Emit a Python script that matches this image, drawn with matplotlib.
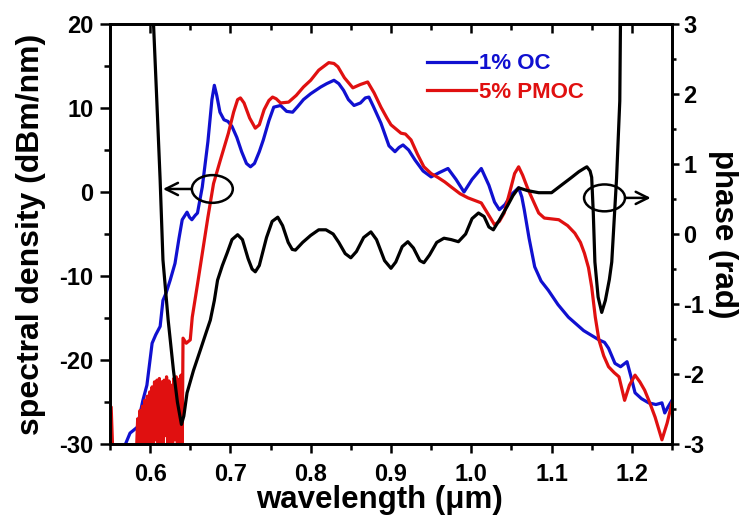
import matplotlib
matplotlib.use("Agg")
import matplotlib.pyplot as plt
from matplotlib.patches import Ellipse
from matplotlib.ticker import MultipleLocator

plt.rcParams['font.family'] = ['Liberation Sans', 'DejaVu Sans']
plt.rcParams['font.weight'] = 'bold'
plt.rcParams['axes.unicode_minus'] = False

# ---- data ----
blue_x = [0.565, 0.575, 0.584, 0.591, 0.596, 0.6025, 0.607, 0.6125, 0.616, 0.620,
          0.625, 0.631, 0.636, 0.640, 0.646, 0.649, 0.652, 0.656, 0.659, 0.665,
          0.672, 0.677, 0.680, 0.683, 0.687, 0.692, 0.697, 0.702, 0.708, 0.714,
          0.720, 0.725, 0.730, 0.736, 0.741, 0.748, 0.754, 0.7625, 0.770, 0.7775,
          0.784, 0.791, 0.800, 0.8125, 0.820, 0.829, 0.835, 0.841, 0.847, 0.854,
          0.862, 0.868, 0.8725, 0.878, 0.8875, 0.8975, 0.905, 0.910, 0.915, 0.922,
          0.930, 0.940, 0.950, 0.960, 0.971, 0.981, 0.991, 1.001, 1.0125, 1.022,
          1.029, 1.035, 1.042, 1.050, 1.059, 1.063, 1.066, 1.072, 1.079, 1.087,
          1.096, 1.108, 1.121, 1.140, 1.159, 1.166, 1.171, 1.179, 1.186, 1.194,
          1.199, 1.204, 1.212, 1.221, 1.230, 1.2375, 1.241, 1.245, 1.250]
blue_y = [-31.0, -28.7, -28.0, -24.8, -23.0, -18.0, -17.0, -16.0, -12.9, -12.0,
          -10.5, -8.5, -5.5, -3.3, -2.4, -3.0, -3.3, -2.8, -2.5, 0.6,
          6.0, 11.0, 12.7, 11.5, 9.5, 8.6, 8.4, 7.8, 6.5, 4.8,
          3.4, 3.0, 3.4, 4.8, 6.2, 8.5, 10.1, 10.3, 9.6, 9.5,
          10.2, 11.0, 11.7, 12.5, 12.9, 13.3, 12.9, 12.1, 11.0, 10.3,
          10.6, 11.2, 11.3, 10.2, 8.2, 5.5, 4.8, 5.3, 5.6, 5.0,
          3.8, 2.5, 1.8, 2.3, 2.8, 1.5, 0.0, 1.5, 2.8, 0.8,
          -1.2, -2.1, -1.5, -0.3, 0.5, -0.6, -2.1, -5.5, -8.9, -10.6,
          -11.7, -13.4, -14.9, -16.5, -17.6, -17.9, -18.6, -20.4, -20.8, -20.2,
          -22.0, -23.9, -24.6, -25.1, -25.3, -25.1, -26.3, -25.6, -24.8]

red_x = [0.5500, 0.5515, 0.5535, 0.5830,
         0.5845, 0.5860, 0.5875, 0.5890, 0.5905, 0.5920, 0.5935, 0.5950, 0.5965,
         0.5980, 0.5995, 0.6010, 0.6025, 0.6040, 0.6055, 0.6070, 0.6085, 0.6100,
         0.6115, 0.6130, 0.6145, 0.6160, 0.6175, 0.6190, 0.6205, 0.6220, 0.6235,
         0.6250, 0.6265, 0.6280, 0.6295, 0.6310, 0.6325, 0.6340, 0.6355, 0.6370,
         0.6385, 0.6400, 0.6410, 0.6450, 0.6500, 0.6525, 0.6590, 0.6660, 0.6720,
         0.6790, 0.6875, 0.6975, 0.7040, 0.7090, 0.7125, 0.7170, 0.7240, 0.7310,
         0.7360, 0.7420, 0.7480, 0.7525, 0.7570, 0.7625, 0.7725, 0.7820, 0.7910,
         0.8000, 0.8100, 0.8225, 0.8290, 0.8340, 0.8420, 0.8525, 0.8620, 0.8710,
         0.8790, 0.8875, 0.8950, 0.9000, 0.9125, 0.9180, 0.9250, 0.9330, 0.9410,
         0.9500, 0.9590, 0.9670, 0.9750, 0.9860, 0.9960, 1.0125, 1.0220, 1.0290,
         1.0350, 1.0410, 1.0480, 1.0540, 1.0590, 1.0640, 1.0700, 1.0750, 1.0840,
         1.0910, 1.1000, 1.1090, 1.1200, 1.1290, 1.1360, 1.1410, 1.1460, 1.1500,
         1.1545, 1.1590, 1.1650, 1.1710, 1.1780, 1.1840, 1.1910, 1.1970, 1.2040,
         1.2100, 1.2160, 1.2220, 1.2290, 1.2375, 1.2440, 1.2500]
red_y = [-25.6, -25.6, -31.0, -31.0,
         -27.0, -31.0, -26.0, -30.5, -25.5, -31.0, -24.8, -30.0, -24.3,
         -31.0, -23.8, -30.0, -23.2, -31.0, -22.6, -29.5, -22.4, -31.0,
         -22.2, -30.0, -22.6, -31.0, -22.4, -29.0, -22.0, -31.0, -22.5,
         -30.0, -23.0, -31.0, -22.2, -29.5, -22.0, -31.0, -22.3, -30.0,
         -21.8, -30.5, -17.4, -18.0, -17.6, -14.9, -11.0, -6.7, -3.0,
         1.0, 3.8, 7.0, 9.5, 11.0, 11.2, 10.6, 8.8, 7.6,
         8.0, 9.8, 10.9, 11.3, 11.1, 10.6, 10.7, 11.5, 12.5,
         13.3, 14.5, 15.4, 15.3, 14.9, 13.6, 12.4, 12.8, 13.1,
         11.8, 10.1, 8.8, 8.0, 7.0, 6.9, 6.2, 4.5, 3.0,
         2.2, 1.7, 1.2, 0.6, -0.2, -0.7, -1.3, -2.8, -3.9,
         -3.5, -2.5, 0.0, 2.2, 3.0, 2.0, 0.5, -0.6, -2.5,
         -3.1, -3.2, -3.3, -4.0, -4.9, -6.0, -7.3, -9.0, -11.3,
         -14.9, -17.6, -19.5, -20.8, -21.5, -22.0, -24.8, -23.0, -21.8,
         -22.6, -23.6, -25.0, -26.8, -29.5, -27.5, -25.1]

phase_x = [0.6035, 0.608, 0.6125, 0.616, 0.6225, 0.629, 0.634, 0.639, 0.642, 0.646,
           0.654, 0.6625, 0.670, 0.675, 0.680, 0.684, 0.690, 0.696, 0.702, 0.709,
           0.715, 0.722, 0.727, 0.731, 0.736, 0.745, 0.752, 0.759, 0.765, 0.772,
           0.777, 0.781, 0.790, 0.800, 0.810, 0.819, 0.828, 0.835, 0.843, 0.850,
           0.857, 0.866, 0.875, 0.882, 0.892, 0.900, 0.906, 0.914, 0.921, 0.928,
           0.936, 0.941, 0.948, 0.957, 0.966, 0.975, 0.984, 0.993, 1.001, 1.009,
           1.016, 1.022, 1.0275, 1.035, 1.045, 1.052, 1.059, 1.070, 1.084, 1.100,
           1.1125, 1.124, 1.134, 1.141, 1.144, 1.148, 1.150, 1.152, 1.154, 1.158,
           1.1625, 1.167, 1.172, 1.175, 1.178, 1.181, 1.185, 1.186]
phase_y = [3.2, 2.0, 0.77, -0.37, -1.23, -1.94, -2.4, -2.72, -2.6, -2.27,
           -1.95, -1.66, -1.4, -1.23, -0.95, -0.66, -0.45, -0.27, -0.08, -0.01,
           -0.08, -0.35, -0.5, -0.54, -0.45, -0.05, 0.18, 0.24, 0.12, -0.12,
           -0.22, -0.23, -0.12, -0.02, 0.06, 0.06, 0.0, -0.12, -0.28, -0.34,
           -0.25, -0.05, 0.03, -0.08, -0.38, -0.49, -0.4, -0.18, -0.11, -0.2,
           -0.38, -0.41, -0.3, -0.12, -0.06, -0.08, -0.11, 0.0, 0.22, 0.30,
           0.25, 0.10, 0.06, 0.2, 0.4, 0.55, 0.66, 0.62, 0.59, 0.59,
           0.70, 0.80, 0.89, 0.94, 0.96, 0.90, 0.81, 0.3, -0.40, -0.9,
           -1.12, -0.95, -0.65, -0.40, 0.2, 0.80, 1.90, 3.2]

legend_labels = ["1% OC", "5% PMOC"]
xlabel = "wavelength (\u03bcm)"
ylabel_left = "spectral density (dBm/nm)"
ylabel_right = "phase (rad)"

# ---- figure ----
fig = plt.figure(figsize=(7.39, 5.16), dpi=100)
ax = fig.add_axes([0.1488, 0.1395, 0.7605, 0.814])
ax2 = ax.twinx()

lb, = ax.plot(blue_x, blue_y, color='#1010d0', lw=2.3, label=legend_labels[0],
              solid_joinstyle='round')
lr, = ax.plot(red_x, red_y, color='#e01010', lw=2.3, label=legend_labels[1],
              solid_joinstyle='round')
ax2.plot(phase_x, phase_y, color='black', lw=2.3, solid_joinstyle='round')

ax.set_xlim(0.55, 1.25)
ax.set_ylim(-30, 20)
ax2.set_ylim(-3, 3)

ax.set_xticks([0.6, 0.7, 0.8, 0.9, 1.0, 1.1, 1.2])
ax.set_xticklabels(["0.6", "0.7", "0.8", "0.9", "1.0", "1.1", "1.2"])
ax.xaxis.set_minor_locator(MultipleLocator(0.05))
ax.yaxis.set_major_locator(MultipleLocator(10))
ax.yaxis.set_minor_locator(MultipleLocator(5))
ax2.yaxis.set_major_locator(MultipleLocator(1))
ax2.yaxis.set_minor_locator(MultipleLocator(0.5))

# top axis with inward ticks
axt = ax.twiny()
axt.set_xlim(ax.get_xlim())
axt.xaxis.set_major_locator(MultipleLocator(0.1))
axt.xaxis.set_minor_locator(MultipleLocator(0.05))
axt.tick_params(axis='x', which='both', direction='in', labeltop=False, width=1.8)
axt.tick_params(axis='x', which='major', length=6.5)
axt.tick_params(axis='x', which='minor', length=4)

for a in (ax, ax2, axt):
    for s in a.spines.values():
        s.set_linewidth(1.8)

ax.tick_params(axis='x', which='both', bottom=True, top=False, direction='out',
               labelsize=17, width=1.8, pad=7)
ax.tick_params(axis='x', which='major', length=6.5)
ax.tick_params(axis='x', which='minor', length=4)
ax.tick_params(axis='y', which='both', direction='out', labelsize=17, width=1.8, pad=5)
ax.tick_params(axis='y', which='major', length=7)
ax.tick_params(axis='y', which='minor', length=4)
ax2.tick_params(axis='y', which='both', direction='out', labelsize=17, width=1.8, pad=3)
ax2.tick_params(axis='y', which='major', length=5)
ax2.tick_params(axis='y', which='minor', length=3)

for lbl in ax.get_xticklabels() + ax.get_yticklabels() + ax2.get_yticklabels():
    lbl.set_fontweight('bold')

ax.set_xlabel(xlabel, fontsize=22.5, fontweight='bold', va='center', ha='center')
ax.xaxis.set_label_coords(0.48, -0.133)
ax.set_ylabel(ylabel_left, fontsize=23, fontweight='bold', va='center', ha='center')
ax.yaxis.set_label_coords(-0.1406, 0.5)
ax2.set_ylabel(ylabel_right, fontsize=22.5, fontweight='bold', rotation=270,
               va='center', ha='center')
ax2.yaxis.set_label_coords(1.09, 0.5)

leg = ax.legend(handles=[lb, lr], loc='upper left', bbox_to_anchor=(0.565, 0.93),
                frameon=False, handlelength=2.2, handletextpad=0.1, labelspacing=0.35,
                borderaxespad=0, borderpad=0, labelcolor='linecolor',
                prop={'weight': 'bold', 'size': 16})

# annotation ellipses and arrows
ax.add_patch(Ellipse((0.6775, 0.36), 0.051, 3.3, fill=False, ec='black', lw=1.8, zorder=5))
ax.add_patch(Ellipse((1.166, -0.7), 0.051, 3.2, fill=False, ec='black', lw=1.8, zorder=5))
ax.annotate('', xy=(0.616, 0.36), xytext=(0.6515, 0.36),
            arrowprops=dict(arrowstyle='->', lw=1.8, mutation_scale=22, color='black',
                            shrinkA=0, shrinkB=0))
ax.annotate('', xy=(1.2235, -0.7), xytext=(1.1915, -0.7),
            arrowprops=dict(arrowstyle='->', lw=1.8, mutation_scale=22, color='black',
                            shrinkA=0, shrinkB=0))

fig.savefig('out.png', dpi=100)
